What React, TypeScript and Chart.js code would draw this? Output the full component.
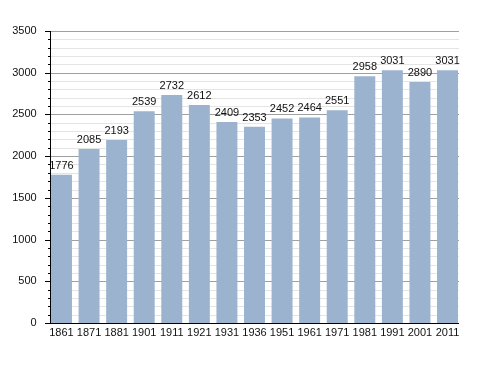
import React, { useEffect, useRef } from "react";
import { Chart, registerables } from "chart.js";

Chart.register(...registerables);

const years = ["1861","1871","1881","1901","1911","1921","1931","1936","1951","1961","1971","1981","1991","2001","2011"];
const population = [1776, 2085, 2193, 2539, 2732, 2612, 2409, 2353, 2452, 2464, 2551, 2958, 3031, 2890, 3031];
const yMax = 3500;
const majorStep = 500;
const minorStep = 100;

const FONT = "'Liberation Sans', Arial, sans-serif";
const FONT_SIZE = 11;
const AXIS_LEFT = 51;
const AXIS_RIGHT = 459;

const gridPlugin = {
  id: "customGrid",
  beforeDatasetsDraw(chart: any) {
    const { ctx } = chart;
    const y = chart.scales.y;
    ctx.save();
    for (let v = 0; v <= yMax; v += minorStep) {
      const py = Math.round(y.getPixelForValue(v)) + 0.5;
      const major = v % majorStep === 0;
      ctx.strokeStyle = major ? "#a0a0a0" : "#e4e4e4";
      ctx.lineWidth = 1;
      ctx.beginPath();
      ctx.moveTo(AXIS_LEFT, py);
      ctx.lineTo(AXIS_RIGHT, py);
      ctx.stroke();
    }
    ctx.restore();
  },
  afterDatasetsDraw(chart: any) {
    const { ctx } = chart;
    const y = chart.scales.y;
    ctx.save();
    ctx.strokeStyle = "#000";
    ctx.lineWidth = 1;
    for (let v = 0; v <= yMax; v += minorStep) {
      const py = Math.round(y.getPixelForValue(v)) + 0.5;
      const len = v % majorStep === 0 ? 6 : 3;
      ctx.beginPath();
      ctx.moveTo(AXIS_LEFT - len, py);
      ctx.lineTo(AXIS_LEFT, py);
      ctx.stroke();
    }
    const top = Math.round(y.getPixelForValue(yMax));
    const bottom = Math.round(y.getPixelForValue(0)) + 0.5;
    ctx.beginPath();
    ctx.moveTo(AXIS_LEFT - 0.5, top);
    ctx.lineTo(AXIS_LEFT - 0.5, bottom);
    ctx.stroke();
    ctx.beginPath();
    ctx.moveTo(AXIS_LEFT - 0.5, bottom);
    ctx.lineTo(AXIS_RIGHT, bottom);
    ctx.stroke();
    ctx.fillStyle = "#111";
    ctx.font = `${FONT_SIZE}px ${FONT}`;
    ctx.textAlign = "center";
    ctx.textBaseline = "alphabetic";
    const meta = chart.getDatasetMeta(0);
    meta.data.forEach((bar: any, i: number) => {
      ctx.fillText(String(population[i]), bar.x, bar.y - 6);
    });
    ctx.restore();
  },
};

export default function App() {
  const ref = useRef<HTMLCanvasElement | null>(null);
  useEffect(() => {
    if (!ref.current) return;
    const chart = new Chart(ref.current, {
      type: "bar",
      data: {
        labels: years,
        datasets: [
          {
            data: population,
            backgroundColor: "#9bb3cf",
            borderWidth: 0,
            barPercentage: 0.76,
            categoryPercentage: 1,
          },
        ],
      },
      options: {
        animation: false,
        responsive: false,
        maintainAspectRatio: false,
        layout: { padding: { left: 0, right: 26.7, top: 31, bottom: 0 } },
        plugins: { legend: { display: false }, tooltip: { enabled: false } },
        scales: {
          x: {
            offset: true,
            grid: { display: false, drawTicks: false },
            border: { display: false },
            ticks: {
              color: "#111",
              font: { family: FONT, size: FONT_SIZE },
              padding: 3,
              maxRotation: 0,
              autoSkip: false,
            },
            afterFit: (s: any) => {
              s.height = 50;
            },
          },
          y: {
            min: 0,
            max: yMax,
            grid: { display: false, drawTicks: false },
            border: { display: false },
            ticks: {
              stepSize: majorStep,
              color: "#111",
              font: { family: FONT, size: FONT_SIZE },
              padding: 11,
              callback: (v: any) => String(v),
            },
            afterFit: (s: any) => {
              s.width = 47.7;
            },
          },
        },
      },
      plugins: [gridPlugin],
    });
    return () => chart.destroy();
  }, []);
  return (
    <div style={{ position: "fixed", left: 0, top: 0, width: 488, height: 373, background: "#fff" }}>
      <canvas ref={ref} width={488} height={373} style={{ display: "block" }} />
    </div>
  );
}
